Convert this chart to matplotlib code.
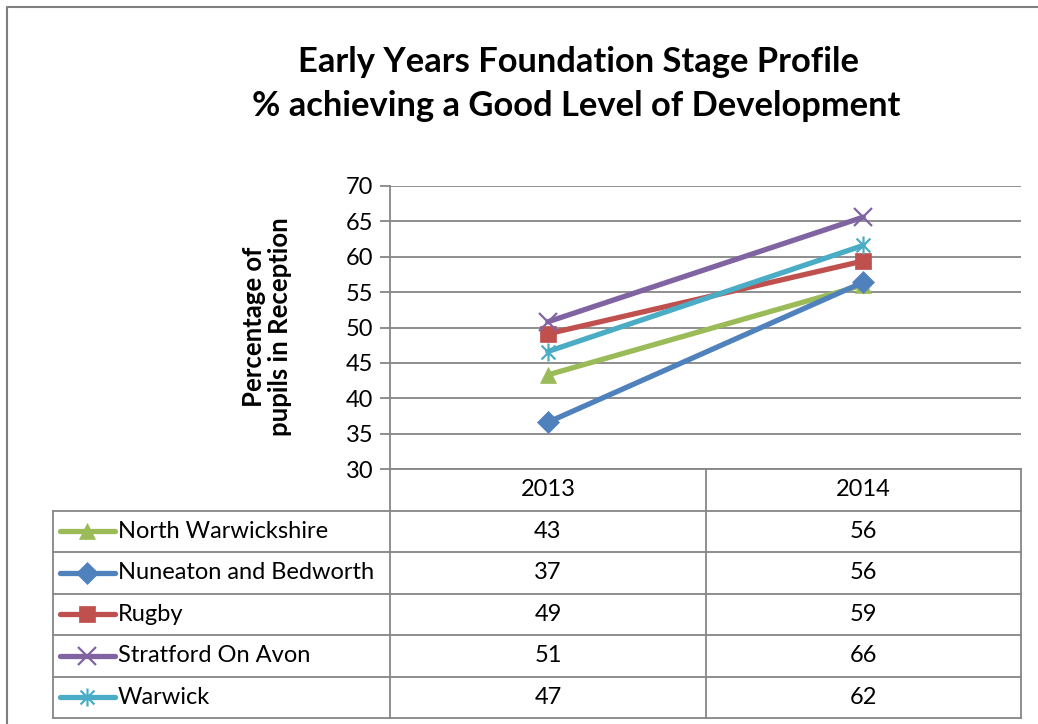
import matplotlib.pyplot as plt
from matplotlib.lines import Line2D
from matplotlib.path import Path

# Data
years = ["2013", "2014"]
areas = ["North Warwickshire", "Nuneaton and Bedworth", "Rugby",
         "Stratford On Avon", "Warwick"]
north_warwickshire = [43.3, 56.0]
nuneaton_bedworth = [36.6, 56.4]
rugby = [49.1, 59.4]
stratford = [50.8, 65.6]
warwick = [46.6, 61.6]
series = [north_warwickshire, nuneaton_bedworth, rugby, stratford, warwick]

colors = ["#9BBB59", "#4F81BD", "#C0504D", "#8064A2", "#4BACC6"]

# Excel style "star" marker: an x with a vertical stroke through it
star = Path([(-1, -1), (1, 1), (-1, 1), (1, -1), (0, -1.3), (0, 1.3)],
            [Path.MOVETO, Path.LINETO, Path.MOVETO, Path.LINETO,
             Path.MOVETO, Path.LINETO])
markers = ["^", "D", "s", "x", star]
msizes = [12, 11, 12, 13, 13]

plt.rcParams['font.family'] = ['Lato', 'DejaVu Sans']
FS = 17

W, H = 1038, 724
fig = plt.figure(figsize=(W / 100, H / 100), dpi=100)


def fx(px):
    return px / W


def fy(py):
    return 1 - py / H


def marker_style(c, m, ms):
    hollow = m == "x" or m is star
    return dict(marker=m, markersize=ms, markeredgecolor=c,
                markerfacecolor="none" if hollow else c,
                markeredgewidth=1.6 if hollow else 0.5)


# plot area
left, right, top, bottom = 390, 1021, 186, 469
ax = fig.add_axes([fx(left), fy(bottom), fx(right - left), fy(top) - fy(bottom)])
xs = range(len(years))
for vals, c, m, ms in zip(series, colors, markers, msizes):
    ax.plot(xs, vals, color=c, lw=3.8, zorder=3, solid_capstyle="round",
            **marker_style(c, m, ms))
ax.set_xlim(-0.5, len(years) - 0.5)
ax.set_ylim(30, 70)
ax.set_yticks(range(30, 71, 5))
ax.set_xticks([])
ax.yaxis.grid(True, color="#868686", lw=1.3)
ax.set_axisbelow(True)
for s in ["top", "right", "bottom"]:
    ax.spines[s].set_visible(False)
ax.spines["left"].set_color("#868686")
ax.spines["left"].set_linewidth(1.3)
ax.tick_params(axis="y", length=7, width=1.3, color="#868686",
               labelsize=FS, pad=5, direction="out")
fig.text(fx(267), fy(327), "Percentage of\npupils in Reception", rotation=90,
         ha="center", va="center", fontsize=18.5, fontweight="bold",
         linespacing=1.1, multialignment="center")

fig.text(fx(578), fy(62), "Early Years Foundation Stage Profile", ha="center",
         va="center", fontsize=24.8, fontweight="bold")
fig.text(fx(576), fy(106), "% achieving a Good Level of Development", ha="center",
         va="center", fontsize=24.8, fontweight="bold")

# data table
grey = "#868686"
tab_left, mid = 53, 706
row_h = 41.5
table_top = bottom
n_rows = len(areas) + 1
table_bottom = table_top + row_h * n_rows


def hline(x0, x1, y):
    fig.add_artist(Line2D([fx(x0), fx(x1)], [fy(y), fy(y)], color=grey, lw=1.3))


def vline(x, y0, y1):
    fig.add_artist(Line2D([fx(x), fx(x)], [fy(y0), fy(y1)], color=grey, lw=1.3))


hline(left, right, table_top)
for i in range(1, n_rows + 1):
    hline(tab_left, right, table_top + row_h * i)
vline(left, table_top, table_bottom)
vline(mid, table_top, table_bottom)
vline(right, table_top, table_bottom)
vline(tab_left, table_top + row_h, table_bottom)

col_centers = [(left + mid) / 2, (mid + right) / 2]
for j, yr in enumerate(years):
    fig.text(fx(col_centers[j]), fy(table_top + row_h / 2), yr, ha="center",
             va="center", fontsize=FS)

for i, (name, vals, c, m, ms) in enumerate(zip(areas, series, colors, markers, msizes)):
    yc = table_top + row_h * (i + 1.5)
    fig.add_artist(Line2D([fx(60), fx(115)], [fy(yc), fy(yc)], color=c, lw=3.8,
                          solid_capstyle="round"))
    fig.add_artist(Line2D([fx(87)], [fy(yc)], color=c, **marker_style(c, m, ms)))
    fig.text(fx(118), fy(yc), name, ha="left", va="center", fontsize=FS)
    for j, v in enumerate(vals):
        fig.text(fx(col_centers[j]), fy(yc), f"{v:.0f}", ha="center",
                 va="center", fontsize=FS)

# outer chart border (left and top edges visible)
fig.add_artist(Line2D([fx(7), fx(7), fx(W + 5)], [fy(H + 5), fy(7), fy(7)],
                      color="#7f7f7f", lw=1.5))

fig.savefig("out.png", dpi=100)
